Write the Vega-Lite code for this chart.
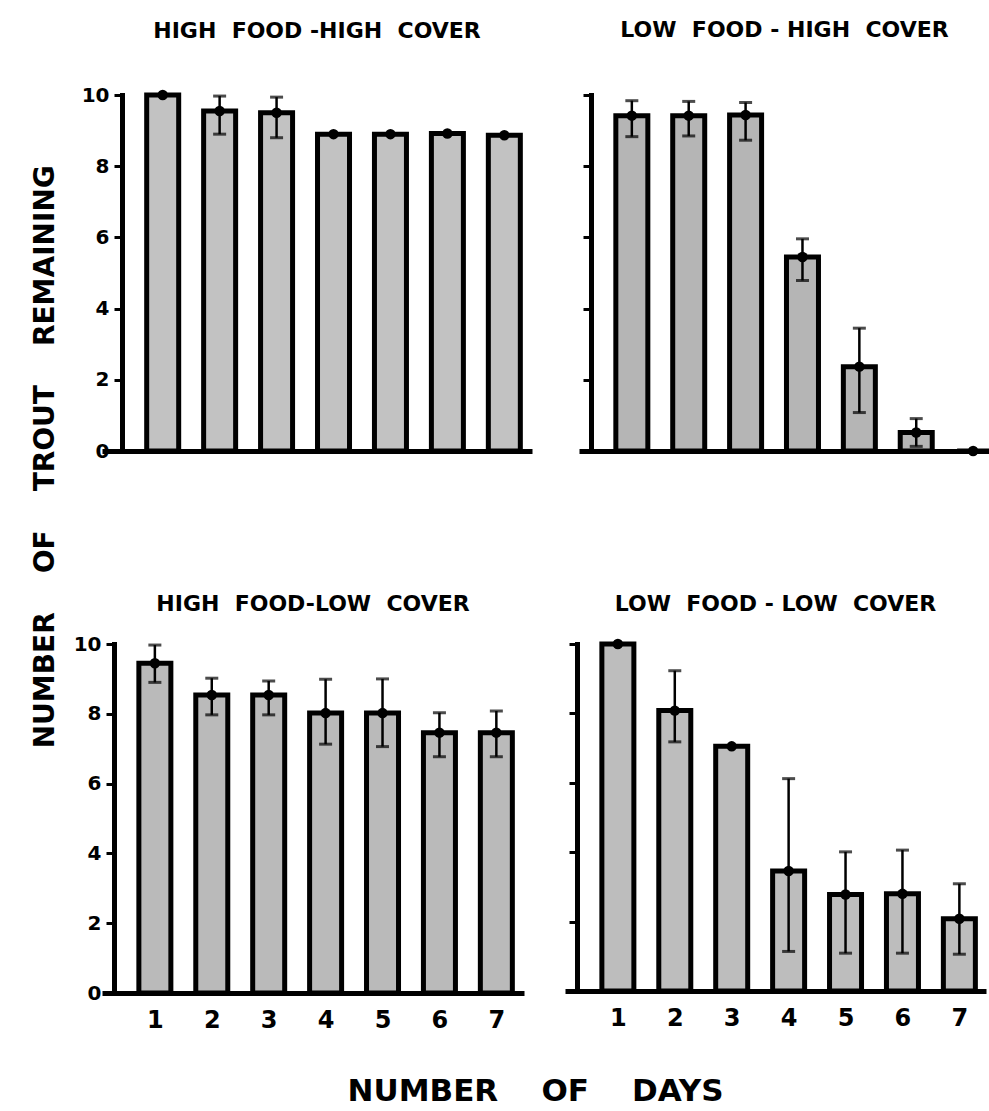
{
  "$schema": "https://vega.github.io/schema/vega-lite/v6.json",
  "background": "white",
  "padding": {"left": 32, "top": 18, "right": 0, "bottom": 0},
  "datasets": {
    "trout": [
      {"panel": "HFHC", "day": 1, "mean": 10.0, "lo": null, "hi": null},
      {"panel": "HFHC", "day": 2, "mean": 9.55, "lo": 8.9, "hi": 9.97},
      {"panel": "HFHC", "day": 3, "mean": 9.5, "lo": 8.8, "hi": 9.94},
      {"panel": "HFHC", "day": 4, "mean": 8.9, "lo": null, "hi": null},
      {"panel": "HFHC", "day": 5, "mean": 8.9, "lo": null, "hi": null},
      {"panel": "HFHC", "day": 6, "mean": 8.92, "lo": null, "hi": null},
      {"panel": "HFHC", "day": 7, "mean": 8.87, "lo": null, "hi": null},
      {"panel": "LFHC", "day": 1, "mean": 9.42, "lo": 8.83, "hi": 9.84},
      {"panel": "LFHC", "day": 2, "mean": 9.42, "lo": 8.85, "hi": 9.82},
      {"panel": "LFHC", "day": 3, "mean": 9.44, "lo": 8.73, "hi": 9.79},
      {"panel": "LFHC", "day": 4, "mean": 5.45, "lo": 4.79, "hi": 5.96},
      {"panel": "LFHC", "day": 5, "mean": 2.37, "lo": 1.08, "hi": 3.45},
      {"panel": "LFHC", "day": 6, "mean": 0.52, "lo": 0.13, "hi": 0.91},
      {"panel": "LFHC", "day": 7, "mean": 0.0, "lo": null, "hi": null},
      {"panel": "HFLC", "day": 1, "mean": 9.45, "lo": 8.9, "hi": 9.97},
      {"panel": "HFLC", "day": 2, "mean": 8.54, "lo": 7.97, "hi": 9.02},
      {"panel": "HFLC", "day": 3, "mean": 8.54, "lo": 7.97, "hi": 8.94},
      {"panel": "HFLC", "day": 4, "mean": 8.02, "lo": 7.13, "hi": 8.99},
      {"panel": "HFLC", "day": 5, "mean": 8.02, "lo": 7.06, "hi": 9.0},
      {"panel": "HFLC", "day": 6, "mean": 7.46, "lo": 6.77, "hi": 8.03},
      {"panel": "HFLC", "day": 7, "mean": 7.46, "lo": 6.77, "hi": 8.08},
      {"panel": "LFLC", "day": 1, "mean": 10.0, "lo": null, "hi": null},
      {"panel": "LFLC", "day": 2, "mean": 8.08, "lo": 7.18, "hi": 9.23},
      {"panel": "LFLC", "day": 3, "mean": 7.05, "lo": null, "hi": null},
      {"panel": "LFLC", "day": 4, "mean": 3.46, "lo": 1.14, "hi": 6.12},
      {"panel": "LFLC", "day": 5, "mean": 2.78, "lo": 1.09, "hi": 4.01},
      {"panel": "LFLC", "day": 6, "mean": 2.8, "lo": 1.09, "hi": 4.06},
      {"panel": "LFLC", "day": 7, "mean": 2.08, "lo": 1.06, "hi": 3.09}
    ]
  },
  "data": {"name": "trout"},
  "title": {
    "text": "NUMBER\u00a0\u00a0\u00a0\u00a0OF\u00a0\u00a0\u00a0\u00a0TROUT\u00a0\u00a0\u00a0\u00a0REMAINING",
    "orient": "left", "anchor": "middle", "fontSize": 28, "offset": 13, "dx": 106
  },
  "vconcat": [
    {
      "title": {
        "text": "NUMBER\u00a0\u00a0\u00a0\u00a0OF\u00a0\u00a0\u00a0\u00a0DAYS",
        "orient": "bottom", "anchor": "middle", "fontSize": 31, "offset": 45, "dx": 4
      },
      "spacing": 131,
      "vconcat": [
        {
          "spacing": 47,
          "hconcat": [
            {
              "width": 430, "height": 356,
              "title": {"text": "HIGH\u00a0\u00a0FOOD\u00a0-HIGH\u00a0\u00a0COVER", "offset": 42},
              "transform": [{"filter": "datum.panel === 'HFHC'"}],
              "encoding": {
                "x": {"field": "day", "type": "quantitative",
                  "scale": {"domain": [0.022, 7.398], "nice": false, "zero": false},
                  "axis": {"values": [1, 2, 3, 4, 5, 6, 7], "labels": false, "title": null}}
              },
              "layer": [
                {"mark": {"type": "bar", "width": 32, "fill": "#c2c2c2", "stroke": "black", "strokeWidth": 5},
                 "encoding": {"y": {"field": "mean", "type": "quantitative", "title": null,
                   "scale": {"domain": [0, 10], "nice": false},
                   "axis": {"values": [0, 2, 4, 6, 8, 10], "offset": -20}}}},
                {"mark": {"type": "rule", "color": "black", "strokeWidth": 2.5},
                 "encoding": {"y": {"field": "lo", "type": "quantitative", "title": null}, "y2": {"field": "hi"}}},
                {"mark": {"type": "tick", "orient": "horizontal", "color": "black", "size": 13, "thickness": 3},
                 "encoding": {"y": {"field": "lo", "type": "quantitative", "title": null}}},
                {"mark": {"type": "tick", "orient": "horizontal", "color": "black", "size": 13, "thickness": 3},
                 "encoding": {"y": {"field": "hi", "type": "quantitative", "title": null}}},
                {"mark": {"type": "circle", "color": "black", "size": 110, "opacity": 1},
                 "encoding": {"y": {"field": "mean", "type": "quantitative", "title": null}}}
              ]
            },
            {
              "width": 411, "height": 356,
              "title": {"text": "LOW\u00a0\u00a0FOOD\u00a0-\u00a0HIGH\u00a0\u00a0COVER", "offset": 52},
              "transform": [{"filter": "datum.panel === 'LFHC'"}],
              "encoding": {
                "x": {"field": "day", "type": "quantitative",
                  "scale": {"domain": [0.159, 7.209], "nice": false, "zero": false},
                  "axis": {"values": [1, 2, 3, 4, 5, 6, 7], "labels": false, "title": null}}
              },
              "layer": [
                {"mark": {"type": "bar", "width": 32, "fill": "#b5b5b5", "stroke": "black", "strokeWidth": 5, "clip": true},
                 "encoding": {"y": {"field": "mean", "type": "quantitative", "title": null,
                   "scale": {"domain": [0, 10], "nice": false},
                   "axis": {"values": [0, 2, 4, 6, 8, 10], "labels": false, "offset": -12}}}},
                {"mark": {"type": "rule", "color": "black", "strokeWidth": 2.5},
                 "encoding": {"y": {"field": "lo", "type": "quantitative", "title": null}, "y2": {"field": "hi"}}},
                {"mark": {"type": "tick", "orient": "horizontal", "color": "black", "size": 13, "thickness": 3},
                 "encoding": {"y": {"field": "lo", "type": "quantitative", "title": null}}},
                {"mark": {"type": "tick", "orient": "horizontal", "color": "black", "size": 13, "thickness": 3},
                 "encoding": {"y": {"field": "hi", "type": "quantitative", "title": null}}},
                {"mark": {"type": "circle", "color": "black", "size": 110, "opacity": 1},
                 "encoding": {"y": {"field": "mean", "type": "quantitative", "title": null}}}
              ]
            }
          ]
        },
        {
          "spacing": 41,
          "hconcat": [
            {
              "width": 422, "height": 349,
              "title": {"text": "HIGH\u00a0\u00a0FOOD-LOW\u00a0\u00a0COVER", "offset": 18},
              "transform": [{"filter": "datum.panel === 'HFLC'"}],
              "encoding": {
                "x": {"field": "day", "type": "quantitative",
                  "scale": {"domain": [0.159, 7.398], "nice": false, "zero": false},
                  "axis": {"values": [1, 2, 3, 4, 5, 6, 7], "format": "d", "title": null}}
              },
              "layer": [
                {"mark": {"type": "bar", "width": 32, "fill": "#bababa", "stroke": "black", "strokeWidth": 5},
                 "encoding": {"y": {"field": "mean", "type": "quantitative", "title": null,
                   "scale": {"domain": [0, 10], "nice": false},
                   "axis": {"values": [0, 2, 4, 6, 8, 10], "offset": -12}}}},
                {"mark": {"type": "rule", "color": "black", "strokeWidth": 2.5},
                 "encoding": {"y": {"field": "lo", "type": "quantitative", "title": null}, "y2": {"field": "hi"}}},
                {"mark": {"type": "tick", "orient": "horizontal", "color": "black", "size": 13, "thickness": 3},
                 "encoding": {"y": {"field": "lo", "type": "quantitative", "title": null}}},
                {"mark": {"type": "tick", "orient": "horizontal", "color": "black", "size": 13, "thickness": 3},
                 "encoding": {"y": {"field": "hi", "type": "quantitative", "title": null}}},
                {"mark": {"type": "circle", "color": "black", "size": 110, "opacity": 1},
                 "encoding": {"y": {"field": "mean", "type": "quantitative", "title": null}}}
              ]
            },
            {
              "width": 421, "height": 347,
              "title": {"text": "LOW\u00a0\u00a0FOOD\u00a0-\u00a0LOW\u00a0\u00a0COVER", "offset": 23},
              "transform": [{"filter": "datum.panel === 'LFLC'"}],
              "encoding": {
                "x": {"field": "day", "type": "quantitative",
                  "scale": {"domain": [0.159, 7.38], "nice": false, "zero": false},
                  "axis": {"values": [1, 2, 3, 4, 5, 6, 7], "format": "d", "title": null}}
              },
              "layer": [
                {"mark": {"type": "bar", "width": 32, "fill": "#bdbdbd", "stroke": "black", "strokeWidth": 5},
                 "encoding": {"y": {"field": "mean", "type": "quantitative", "title": null,
                   "scale": {"domain": [0, 10], "nice": false},
                   "axis": {"values": [0, 2, 4, 6, 8, 10], "labels": false, "offset": -12}}}},
                {"mark": {"type": "rule", "color": "black", "strokeWidth": 2.5},
                 "encoding": {"y": {"field": "lo", "type": "quantitative", "title": null}, "y2": {"field": "hi"}}},
                {"mark": {"type": "tick", "orient": "horizontal", "color": "black", "size": 13, "thickness": 3},
                 "encoding": {"y": {"field": "lo", "type": "quantitative", "title": null}}},
                {"mark": {"type": "tick", "orient": "horizontal", "color": "black", "size": 13, "thickness": 3},
                 "encoding": {"y": {"field": "hi", "type": "quantitative", "title": null}}},
                {"mark": {"type": "circle", "color": "black", "size": 110, "opacity": 1},
                 "encoding": {"y": {"field": "mean", "type": "quantitative", "title": null}}}
              ]
            }
          ]
        }
      ]
    }
  ],
  "config": {
    "view": {"stroke": null},
    "font": "DejaVu Sans",
    "title": {"font": "DejaVu Sans", "fontSize": 22, "fontWeight": "bold", "color": "black"},
    "axis": {
      "domainColor": "black", "domainWidth": 5, "tickColor": "black", "tickWidth": 3,
      "labelColor": "black", "labelFont": "DejaVu Sans", "labelFontWeight": "bold", "grid": false
    },
    "axisX": {"ticks": false, "labelFontSize": 24, "labelPadding": 15},
    "axisY": {"tickSize": 8, "labelFontSize": 20, "labelPadding": 5, "domainCap": "square"}
  }
}
